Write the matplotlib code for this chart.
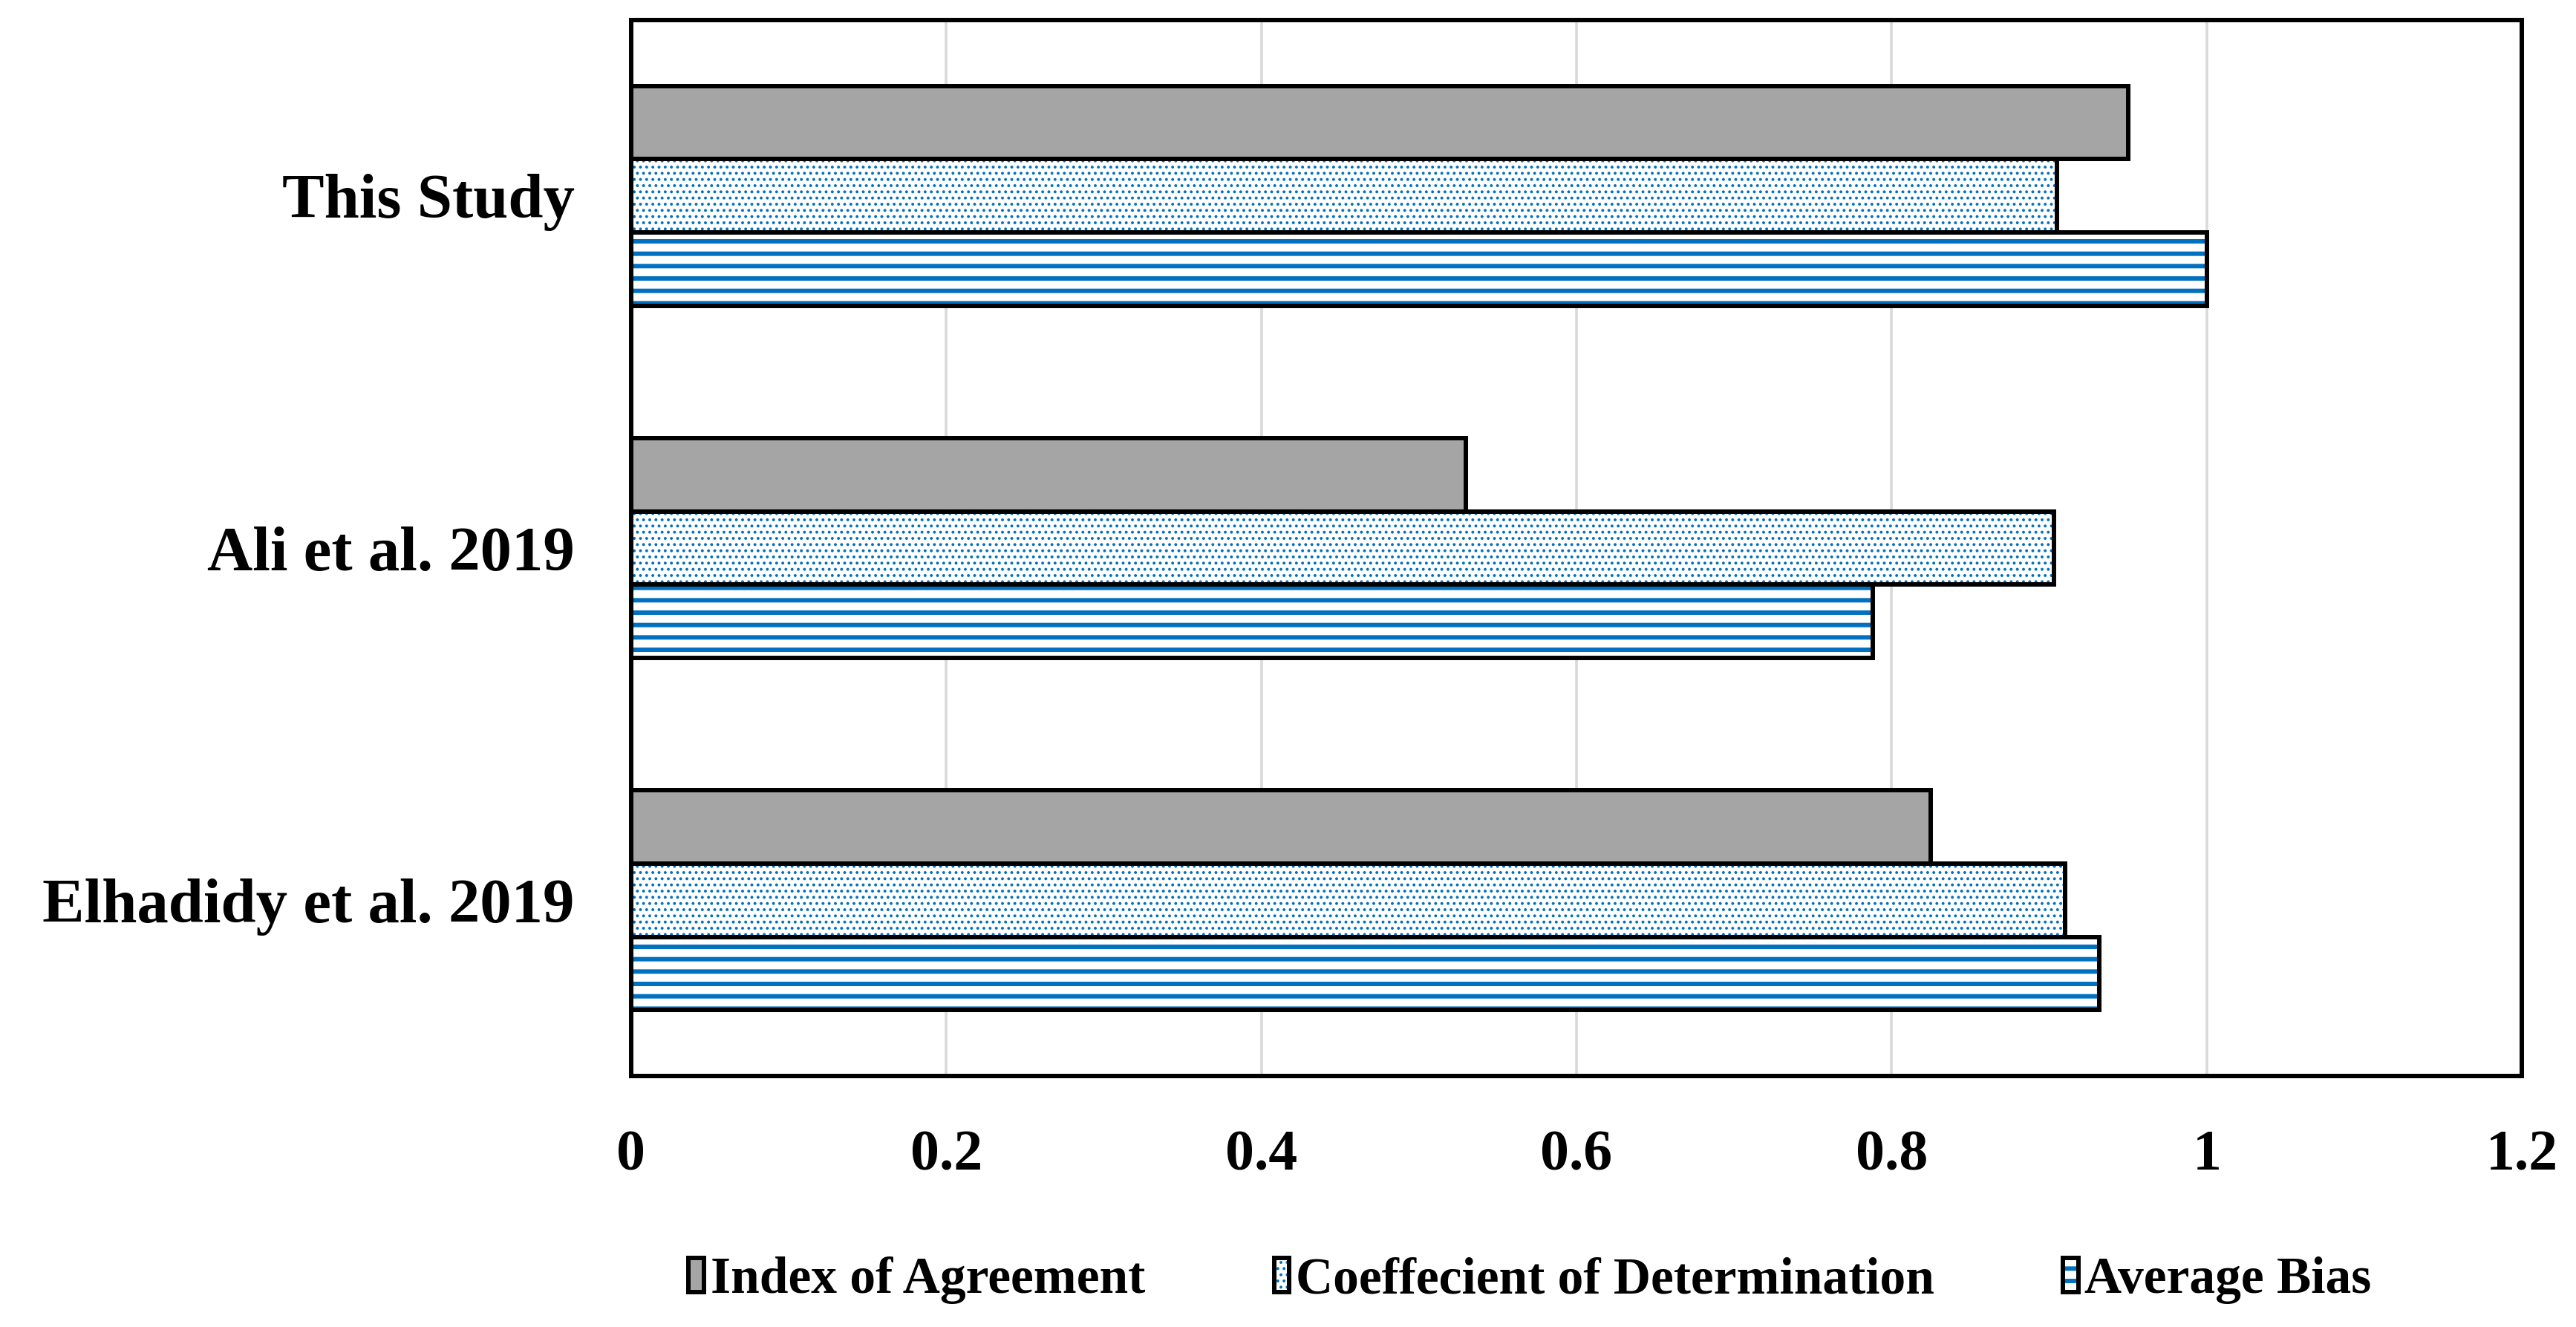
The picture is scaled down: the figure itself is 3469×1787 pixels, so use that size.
import numpy as np
import matplotlib
matplotlib.use('Agg')
import matplotlib.pyplot as plt
from matplotlib.patches import Rectangle
from matplotlib.legend_handler import HandlerTuple

# Values
categories = ['This Study', 'Ali et al. 2019', 'Elhadidy et al. 2019']
series_names = ['Index of Agreement', 'Coeffecient of Determination', 'Average Bias']
index_agreement = [0.95, 0.53, 0.825]
coef_determination = [0.905, 0.903, 0.91]
average_bias = [1.0, 0.788, 0.932]
x_ticks = [0, 0.2, 0.4, 0.6, 0.8, 1.0, 1.2]
x_tick_labels = ['0', '0.2', '0.4', '0.6', '0.8', '1', '1.2']

BLUE = '#0070C0'
GRAY = '#A5A5A5'
EDGE_LW = 4.3
DOT_LW = 1.6
STRIPE_LW = 4.3

plt.rcParams['font.family'] = ['Liberation Serif', 'DejaVu Serif']
plt.rcParams['font.weight'] = 'bold'
plt.rcParams['hatch.linewidth'] = DOT_LW


def set_hatch_lw(patch, lw):
    # the hatch linewidth is stored on each patch when it is created
    if hasattr(patch, 'set_hatch_linewidth'):
        patch.set_hatch_linewidth(lw)
    else:
        patch._hatch_linewidth = lw


def hatched_bar(ax, y, values, height, face, hatch=None, hatch_lw=DOT_LW):
    """Draws hatched bars (hatch in blue) and a black outline on top."""
    with plt.rc_context({'hatch.linewidth': hatch_lw}):
        bars = ax.barh(y, values, height=height, color=face,
                       edgecolor=BLUE if hatch else face, linewidth=0,
                       hatch=hatch, zorder=3)
    for b in bars:
        set_hatch_lw(b, hatch_lw)
    ax.barh(y, values, height=height, fill=False, edgecolor='black',
            linewidth=EDGE_LW, zorder=4)


def legend_handle(face, hatch=None):
    p = Rectangle((0, 0), 1, 1, facecolor=face,
                  edgecolor=BLUE if hatch else face, linewidth=0, hatch=hatch)
    outline = Rectangle((0, 0), 1, 1, fill=False, edgecolor='black', linewidth=EDGE_LW)
    return (p, outline)


fig = plt.figure(figsize=(34.69, 17.87), dpi=100)
ax = fig.add_axes([0.245, 0.189, 0.734, 0.796])

y = np.arange(len(categories))
h = 0.625 / 3  # Excel-like 60% gap width

hatched_bar(ax, y - h, index_agreement, h, GRAY)
hatched_bar(ax, y, coef_determination, h, 'white', hatch='..', hatch_lw=DOT_LW)
hatched_bar(ax, y + h, average_bias, h, 'white', hatch='-', hatch_lw=STRIPE_LW)

# Axes styling
ax.set_xlim(0, 1.2)
ax.set_ylim(len(categories) - 0.5, -0.5)
ax.set_xticks(x_ticks)
ax.set_xticklabels(x_tick_labels)
ax.set_yticks(y)
ax.set_yticklabels(categories)
ax.tick_params(axis='x', length=0, pad=52, labelsize=56)
ax.tick_params(axis='y', length=0, pad=55, labelsize=61)
ax.grid(axis='x', color='#d9d9d9', linewidth=2.6, zorder=0)
ax.set_axisbelow(True)
for s in ax.spines.values():
    s.set_linewidth(EDGE_LW)
    s.set_color('black')

# Legend below the plot
handles = [legend_handle(GRAY),
           legend_handle('white', '..'),
           legend_handle('white', '-')]
leg = fig.legend(handles, series_names, loc='center', bbox_to_anchor=(0.594, 0.035),
                 ncol=3, frameon=False, fontsize=50, handlelength=0.3, handleheight=0.65,
                 handletextpad=0.12, columnspacing=2.5,
                 handler_map={tuple: HandlerTuple(ndivide=1)})
for p in leg.findobj(lambda a: isinstance(a, Rectangle) and a.get_hatch() == '-'):
    set_hatch_lw(p, STRIPE_LW)

fig.savefig('out.png', dpi=100)
